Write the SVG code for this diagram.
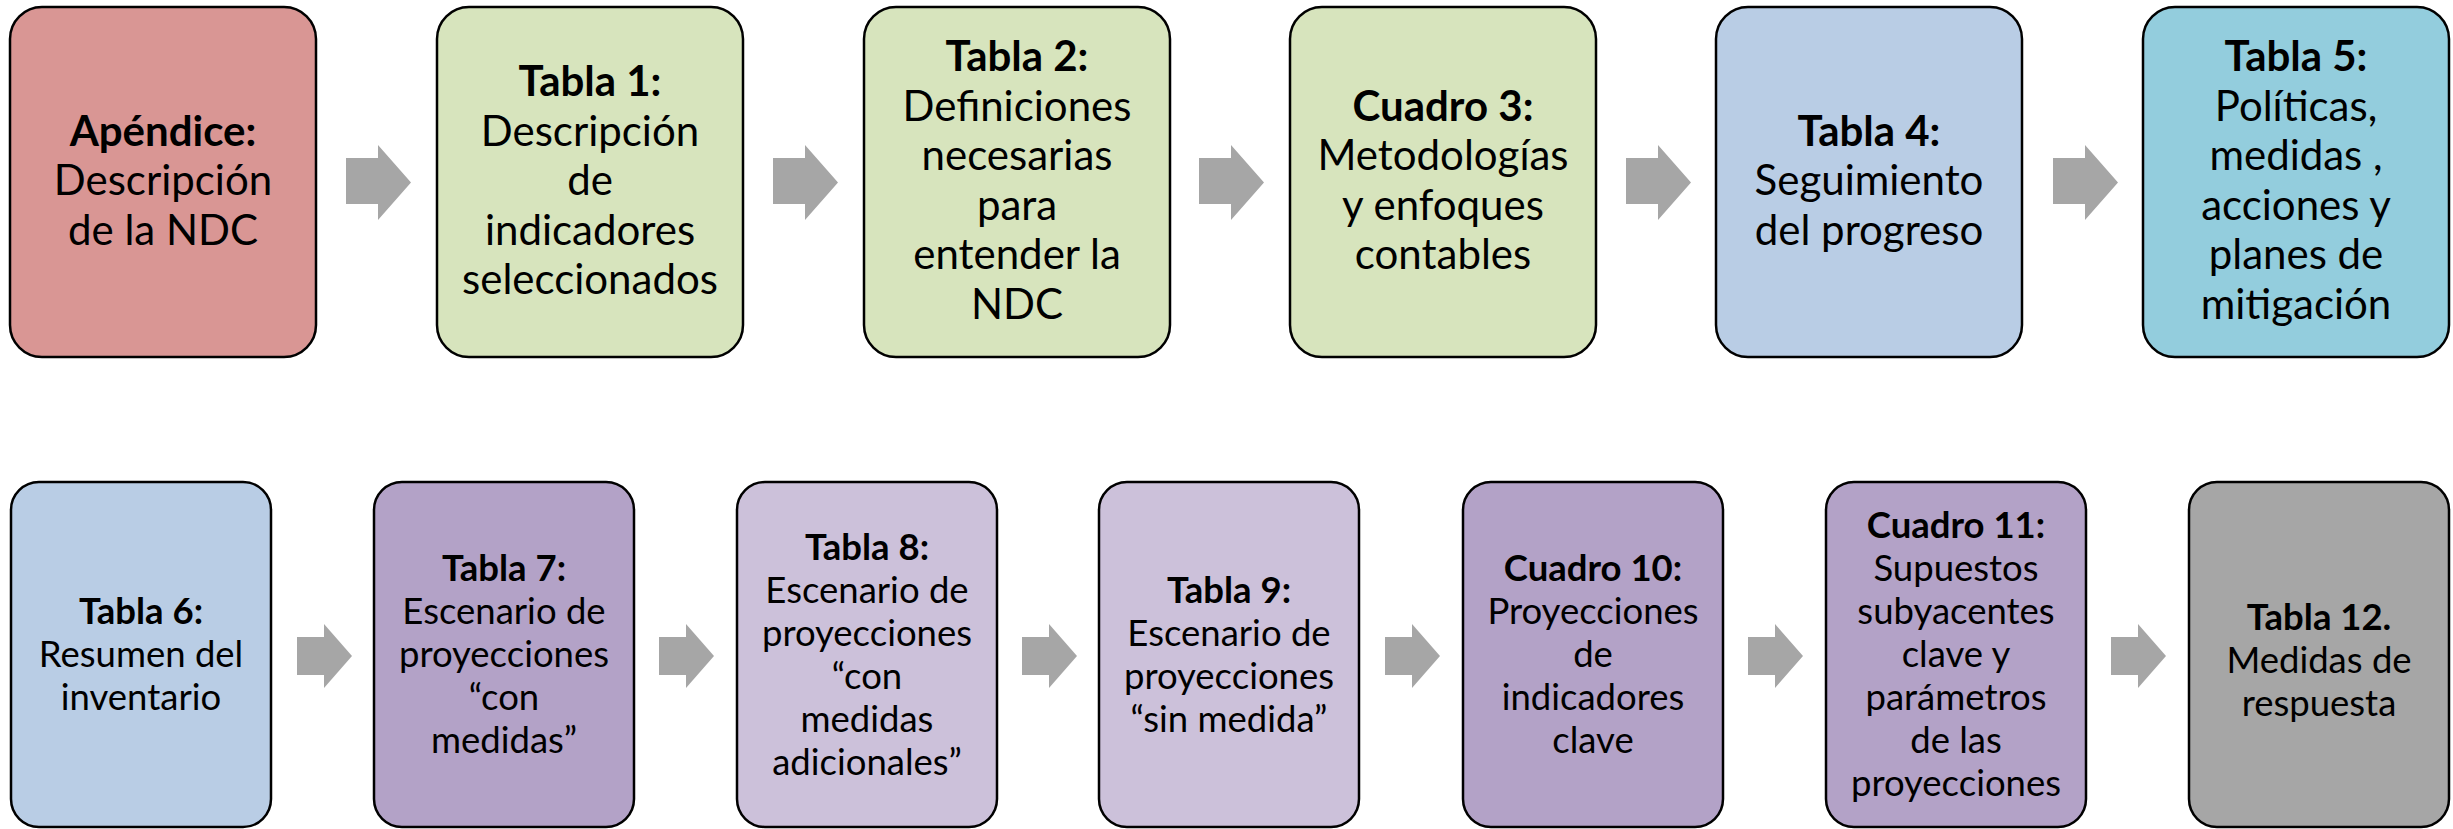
<svg xmlns="http://www.w3.org/2000/svg" width="2453" height="829" viewBox="0 0 2453 829">
<style>
.box{stroke:#000;stroke-width:2.5}
.t{font-family:Lato,"Open Sans","Liberation Sans",sans-serif;font-size:42px;fill:#000;text-anchor:middle}
.b{font-family:Lato,"Open Sans","Liberation Sans",sans-serif;font-size:36.5px;fill:#000;text-anchor:middle}
.bd{font-weight:bold}
.arr{fill:#A6A6A6}
</style>
<rect width="2453" height="829" fill="#fff"/>
<g id="connectors">
<polygon class="arr" points="346,158 378,158 378,145 411,182.5 378,220 378,204 346,204"/>
<polygon class="arr" points="773,158 805,158 805,145 838,182.5 805,220 805,204 773,204"/>
<polygon class="arr" points="1199,158 1231,158 1231,145 1264,182.5 1231,220 1231,204 1199,204"/>
<polygon class="arr" points="1626,158 1658,158 1658,145 1691,182.5 1658,220 1658,204 1626,204"/>
<polygon class="arr" points="2053,158 2085,158 2085,145 2118,182.5 2085,220 2085,204 2053,204"/>
<polygon class="arr" points="297,637 324,637 324,624 352,656 324,688 324,675 297,675"/>
<polygon class="arr" points="659,637 686,637 686,624 714,656 686,688 686,675 659,675"/>
<polygon class="arr" points="1022,637 1049,637 1049,624 1077,656 1049,688 1049,675 1022,675"/>
<polygon class="arr" points="1385,637 1412,637 1412,624 1440,656 1412,688 1412,675 1385,675"/>
<polygon class="arr" points="1748,637 1775,637 1775,624 1803,656 1775,688 1775,675 1748,675"/>
<polygon class="arr" points="2111,637 2138,637 2138,624 2166,656 2138,688 2138,675 2111,675"/>
</g>
<g id="n1"><rect class="box" x="10" y="7" width="306" height="350" rx="32" fill="#D99694"/>
<text class="t"><tspan class="bd" x="163" y="145.5">Apéndice:</tspan><tspan x="163" y="195">Descripción</tspan><tspan x="163" y="244.5">de la NDC</tspan></text></g>
<g id="n2"><rect class="box" x="437" y="7" width="306" height="350" rx="32" fill="#D7E4BD"/>
<text class="t"><tspan class="bd" x="590" y="96">Tabla 1:</tspan><tspan x="590" y="145.5">Descripción</tspan><tspan x="590" y="195">de</tspan><tspan x="590" y="244.5">indicadores</tspan><tspan x="590" y="294">seleccionados</tspan></text></g>
<g id="n3"><rect class="box" x="864" y="7" width="306" height="350" rx="32" fill="#D7E4BD"/>
<text class="t"><tspan class="bd" x="1017" y="71">Tabla 2:</tspan><tspan x="1017" y="120.5">Definiciones</tspan><tspan x="1017" y="170">necesarias</tspan><tspan x="1017" y="219.5">para</tspan><tspan x="1017" y="269">entender la</tspan><tspan x="1017" y="318.5">NDC</tspan></text></g>
<g id="n4"><rect class="box" x="1290" y="7" width="306" height="350" rx="32" fill="#D7E4BD"/>
<text class="t"><tspan class="bd" x="1443" y="120.5">Cuadro 3:</tspan><tspan x="1443" y="170">Metodologías</tspan><tspan x="1443" y="219.5">y enfoques</tspan><tspan x="1443" y="269">contables</tspan></text></g>
<g id="n5"><rect class="box" x="1716" y="7" width="306" height="350" rx="32" fill="#B9CDE5"/>
<text class="t"><tspan class="bd" x="1869" y="145.5">Tabla 4:</tspan><tspan x="1869" y="195">Seguimiento</tspan><tspan x="1869" y="244.5">del progreso</tspan></text></g>
<g id="n6"><rect class="box" x="2143" y="7" width="306" height="350" rx="32" fill="#93CDDD"/>
<text class="t"><tspan class="bd" x="2296" y="71">Tabla 5:</tspan><tspan x="2296" y="120.5">Políticas,</tspan><tspan x="2296" y="170">medidas ,</tspan><tspan x="2296" y="219.5">acciones y</tspan><tspan x="2296" y="269">planes de</tspan><tspan x="2296" y="318.5">mitigación</tspan></text></g>
<g id="n7"><rect class="box" x="11" y="482" width="260" height="345" rx="28" fill="#B9CDE5"/>
<text class="b"><tspan class="bd" x="141" y="624">Tabla 6:</tspan><tspan x="141" y="667">Resumen del</tspan><tspan x="141" y="710">inventario</tspan></text></g>
<g id="n8"><rect class="box" x="374" y="482" width="260" height="345" rx="28" fill="#B3A2C7"/>
<text class="b"><tspan class="bd" x="504" y="581">Tabla 7:</tspan><tspan x="504" y="624">Escenario de</tspan><tspan x="504" y="667">proyecciones</tspan><tspan x="504" y="710">“con</tspan><tspan x="504" y="753">medidas”</tspan></text></g>
<g id="n9"><rect class="box" x="737" y="482" width="260" height="345" rx="28" fill="#CCC1DA"/>
<text class="b"><tspan class="bd" x="867" y="559.5">Tabla 8:</tspan><tspan x="867" y="602.5">Escenario de</tspan><tspan x="867" y="645.5">proyecciones</tspan><tspan x="867" y="688.5">“con</tspan><tspan x="867" y="731.5">medidas</tspan><tspan x="867" y="774.5">adicionales”</tspan></text></g>
<g id="n10"><rect class="box" x="1099" y="482" width="260" height="345" rx="28" fill="#CCC1DA"/>
<text class="b"><tspan class="bd" x="1229" y="602.5">Tabla 9:</tspan><tspan x="1229" y="645.5">Escenario de</tspan><tspan x="1229" y="688.5">proyecciones</tspan><tspan x="1229" y="731.5">“sin medida”</tspan></text></g>
<g id="n11"><rect class="box" x="1463" y="482" width="260" height="345" rx="28" fill="#B3A2C7"/>
<text class="b"><tspan class="bd" x="1593" y="581">Cuadro 10:</tspan><tspan x="1593" y="624">Proyecciones</tspan><tspan x="1593" y="667">de</tspan><tspan x="1593" y="710">indicadores</tspan><tspan x="1593" y="753">clave</tspan></text></g>
<g id="n12"><rect class="box" x="1826" y="482" width="260" height="345" rx="28" fill="#B3A2C7"/>
<text class="b"><tspan class="bd" x="1956" y="538">Cuadro 11:</tspan><tspan x="1956" y="581">Supuestos</tspan><tspan x="1956" y="624">subyacentes</tspan><tspan x="1956" y="667">clave y</tspan><tspan x="1956" y="710">parámetros</tspan><tspan x="1956" y="753">de las</tspan><tspan x="1956" y="796">proyecciones</tspan></text></g>
<g id="n13"><rect class="box" x="2189" y="482" width="260" height="345" rx="28" fill="#A6A6A6"/>
<text class="b"><tspan class="bd" x="2319" y="630">Tabla 12.</tspan><tspan x="2319" y="673">Medidas de</tspan><tspan x="2319" y="716">respuesta</tspan></text></g>
</svg>
